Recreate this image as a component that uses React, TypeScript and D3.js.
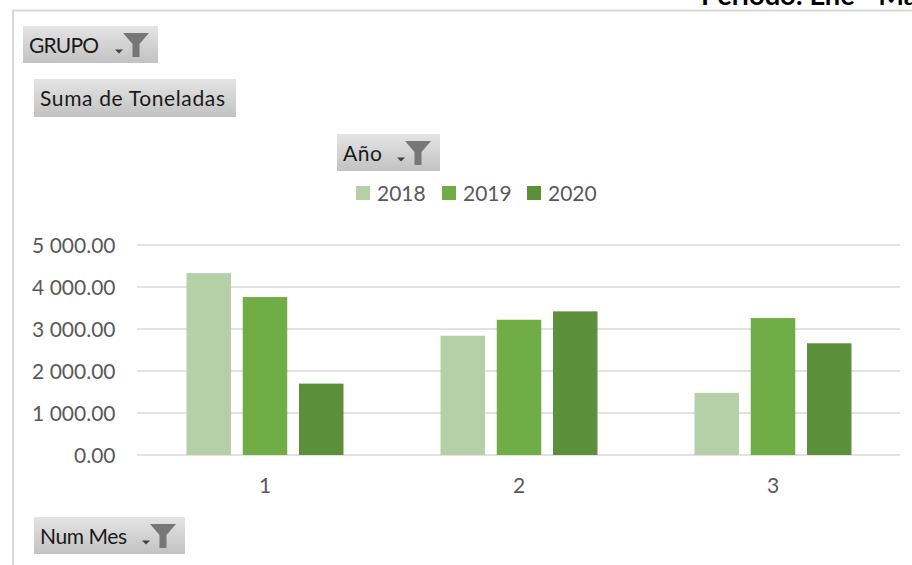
import React from "react";
import * as d3 from "d3";

const months = ["1", "2", "3"];
const years = ["2018", "2019", "2020"];
const values2018 = [4330, 2840, 1480];
const values2019 = [3760, 3220, 3260];
const values2020 = [1700, 3420, 2660];
const yTicks = [0, 1000, 2000, 3000, 4000, 5000];
const yearColors = ["#b5cfa6", "#70ad47", "#5b8f39"];

const series = [values2018, values2019, values2020];
const font = "Lato, Carlito, 'Open Sans', sans-serif";

const width = 912;
const height = 565;

const formatTick = (v: number) => {
  const s = v.toFixed(2);
  const [whole, dec] = s.split(".");
  return whole.replace(/\B(?=(\d{3})+$)/g, " ") + "." + dec;
};

// grey pivot field button with optional filter icon
const FieldButton = ({ x, y, w, h, label, labelWidth, filter }: any) => (
  <g transform={`translate(${x},${y})`}>
    <rect width={w} height={h} fill="url(#btn)" />
    <text
      x={6}
      y={h / 2 + 8}
      fontSize={21}
      fill="#1a1a1a"
      fontFamily={font}
      textLength={labelWidth}
      lengthAdjust="spacing"
    >
      {label}
    </text>
    {filter && (
      <g transform={`translate(${w - 43},0)`}>
        <path d="M0,23.5 h8 l-4,4 z" fill="#404040" />
        <path d="M8,7 h26 l-9.5,11 v13 h-7 v-13 z" fill="#777777" />
      </g>
    )}
  </g>
);

const App = () => {
  const x = d3.scaleBand().domain(months).range([138, 900]).paddingInner(0.382).paddingOuter(0.191);
  const inner = d3.scaleBand().domain(years).range([0, x.bandwidth()]).paddingInner(0.209);
  const y = d3.scaleLinear().domain([0, 5000]).range([455, 245]);

  return (
    <svg
      width={width}
      height={height}
      style={{ position: "absolute", left: 0, top: 0, background: "#fff" }}
    >
      <defs>
        <linearGradient id="btn" x1="0" y1="0" x2="0" y2="1">
          <stop offset="0" stopColor="#e4e4e4" />
          <stop offset="1" stopColor="#c2c2c2" />
        </linearGradient>
      </defs>

      {/* cut-off sheet title above the chart frame */}
      <text x={701} y={5} fontSize={27.3} fontWeight={700} fill="#000" fontFamily={font}>
        Periodo: Ene - Mar
      </text>

      <path d="M13,565 V10.5 H912" fill="none" stroke="#d9d9d9" strokeWidth={2} />

      <FieldButton x={23} y={26} w={135} h={37} label="GRUPO" labelWidth={70} filter />
      <FieldButton x={34} y={79} w={202} h={38} label="Suma de Toneladas" labelWidth={185} />
      <FieldButton x={337} y={134} w={103} h={37} label="Año" labelWidth={39} filter />
      <FieldButton x={34} y={517} w={151} h={37} label="Num Mes" labelWidth={87} filter />

      {/* legend */}
      {years.map((yr, i) => {
        const lx = [356, 442, 527][i];
        return (
          <g key={yr}>
            <rect x={lx} y={186} width={14} height={14} fill={yearColors[i]} />
            <text x={lx + 21} y={201} fontSize={21} fill="#595959" fontFamily={font}>
              {yr}
            </text>
          </g>
        );
      })}

      {/* grid and y labels */}
      {yTicks.map((t) => (
        <g key={t}>
          <line x1={137} x2={900} y1={y(t)} y2={y(t)} stroke="#d9d9d9" strokeWidth={1.5} />
          <text x={115.5} y={y(t) + 7.5} textAnchor="end" fontSize={21} fill="#595959" fontFamily={font}>
            {formatTick(t)}
          </text>
        </g>
      ))}

      {/* bars */}
      {months.map((m, mi) => (
        <g key={m} transform={`translate(${x(m)},0)`}>
          {years.map((yr, si) => (
            <rect
              key={yr}
              x={inner(yr)}
              y={y(series[si][mi])}
              width={inner.bandwidth()}
              height={y(0) - y(series[si][mi])}
              fill={yearColors[si]}
            />
          ))}
        </g>
      ))}

      {/* x labels */}
      {months.map((m) => (
        <text
          key={m}
          x={(x(m) as number) + x.bandwidth() / 2}
          y={493}
          textAnchor="middle"
          fontSize={21}
          fill="#595959"
          fontFamily={font}
        >
          {m}
        </text>
      ))}
    </svg>
  );
};

export default App;
